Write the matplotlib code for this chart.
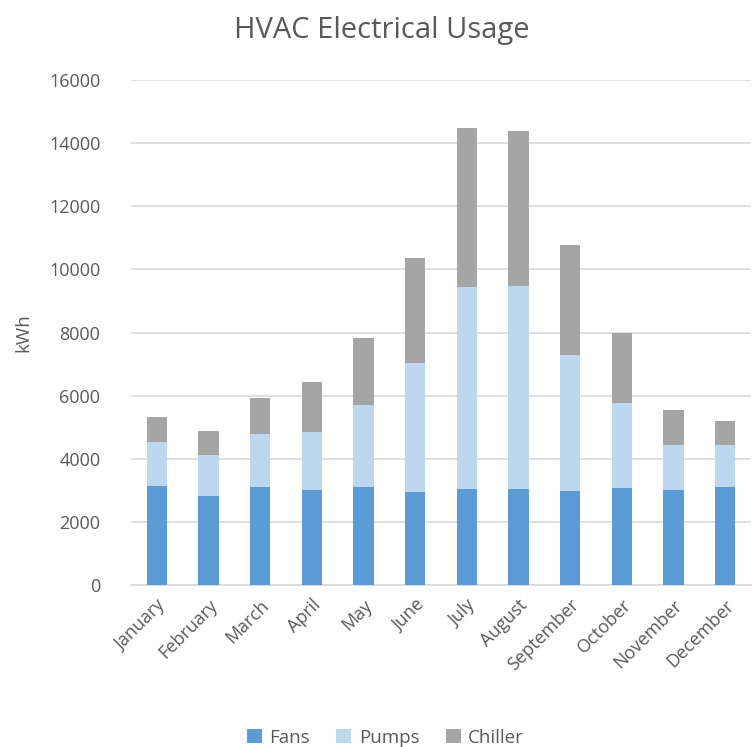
import matplotlib
matplotlib.use("Agg")
import matplotlib.pyplot as plt
import numpy as np

months = ["January", "February", "March", "April", "May", "June", "July",
          "August", "September", "October", "November", "December"]
fans = [3140, 2820, 3110, 3000, 3100, 2960, 3050, 3050, 2980, 3080, 3010, 3100]
pumps = [1400, 1310, 1660, 1850, 2610, 4070, 6390, 6420, 4300, 2690, 1440, 1330]
chiller = [790, 760, 1160, 1570, 2120, 3340, 5040, 4910, 3480, 2230, 1080, 760]

plt.rcParams["font.family"] = ["Open Sans", "DejaVu Sans"]
txt = "#595959"

fig = plt.figure(figsize=(7.56, 7.47), dpi=100)
ax = fig.add_axes([131 / 756, 1 - 585 / 747, 620 / 756, 505 / 747])

x = np.arange(len(months))
w = 0.39
fans_a = np.array(fans)
pumps_a = np.array(pumps)
ax.bar(x, fans, w, color="#5B9BD5", label="Fans", zorder=3)
ax.bar(x, pumps, w, bottom=fans_a, color="#BDD7EE", label="Pumps", zorder=3)
ax.bar(x, chiller, w, bottom=fans_a + pumps_a, color="#A5A5A5", label="Chiller", zorder=3)

ax.set_xlim(-0.5, len(months) - 0.5)
ax.set_ylim(0, 16000)
ax.set_yticks(range(0, 16001, 2000))
ax.grid(axis="y", color="#D9D9D9", linewidth=1.2, zorder=0)
for s in ["top", "right", "left"]:
    ax.spines[s].set_visible(False)
ax.spines["bottom"].set_color("#D9D9D9")
ax.spines["bottom"].set_linewidth(1.2)
ax.tick_params(axis="both", length=0, labelsize=13, colors=txt)
ax.tick_params(axis="y", pad=22)
ax.tick_params(axis="x", pad=8)
ax.set_xticks(x)
ax.set_xticklabels(months, rotation=45, ha="right", rotation_mode="anchor")
ax.set_ylabel("kWh", fontsize=13.5, color=txt, labelpad=12)

fig.suptitle("HVAC Electrical Usage", fontsize=21, color=txt, x=0.505, y=0.978)
leg = fig.legend(loc="lower center", ncol=3, frameon=False, fontsize=13.5,
                 bbox_to_anchor=(0.51, -0.022), handlelength=0.8, handleheight=0.8,
                 columnspacing=1.4, handletextpad=0.4)
for t in leg.get_texts():
    t.set_color(txt)

fig.savefig("out.png", dpi=100)
